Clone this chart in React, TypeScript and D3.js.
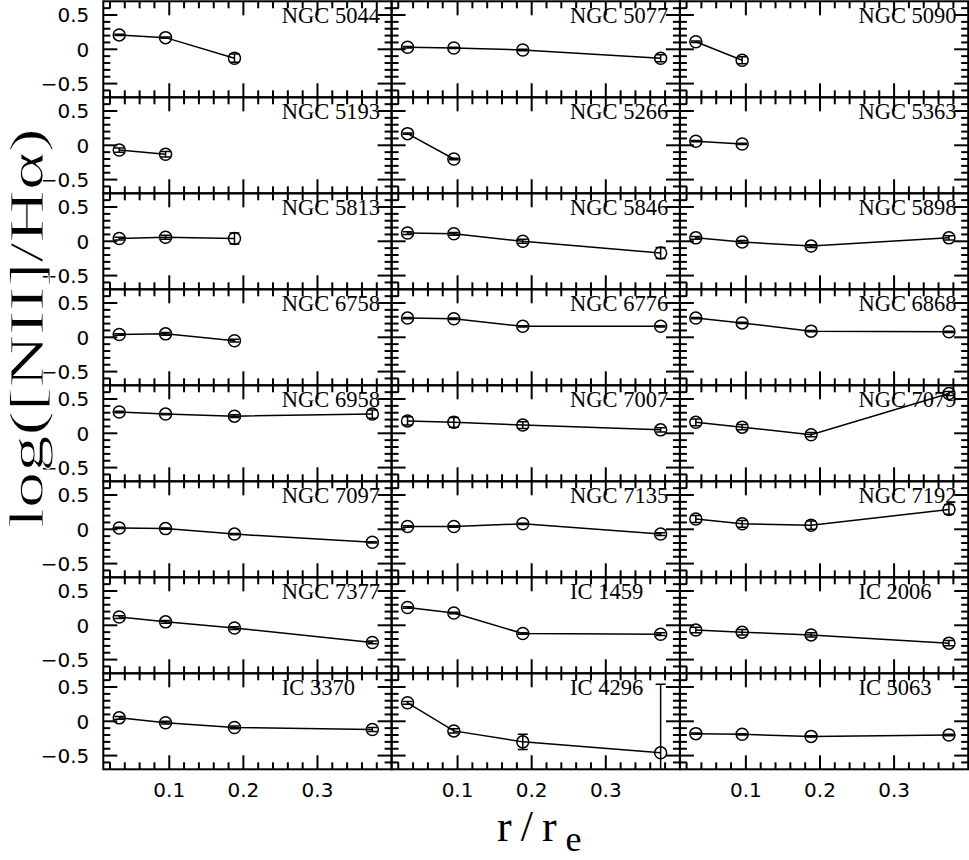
import { useEffect, useRef } from 'react'
import * as d3 from 'd3'

// panels in row-major order, 3 per row
const galaxies = [
  'NGC 5044', 'NGC 5077', 'NGC 5090',
  'NGC 5193', 'NGC 5266', 'NGC 5363',
  'NGC 5813', 'NGC 5846', 'NGC 5898',
  'NGC 6758', 'NGC 6776', 'NGC 6868',
  'NGC 6958', 'NGC 7007', 'NGC 7079',
  'NGC 7097', 'NGC 7135', 'NGC 7192',
  'NGC 7377', 'IC 1459', 'IC 2006',
  'IC 3370', 'IC 4296', 'IC 5063',
]

const radii = [0.0325, 0.095, 0.188, 0.374]

const ratios = [
  [0.21, 0.17, -0.13], [0.03, 0.02, -0.01, -0.13], [0.11, -0.16],
  [-0.07, -0.13], [0.17, -0.2], [0.06, 0.02],
  [0.04, 0.06, 0.04], [0.12, 0.11, 0.0, -0.17], [0.05, -0.01, -0.07, 0.05],
  [0.04, 0.05, -0.05], [0.28, 0.27, 0.16, 0.16], [0.28, 0.21, 0.09, 0.08],
  [0.31, 0.28, 0.25, 0.28], [0.18, 0.16, 0.12, 0.05], [0.16, 0.09, -0.02, 0.58],
  [0.02, 0.01, -0.07, -0.19], [0.04, 0.04, 0.08, -0.07], [0.15, 0.08, 0.06, 0.29],
  [0.12, 0.05, -0.04, -0.25], [0.26, 0.18, -0.12, -0.13], [-0.07, -0.1, -0.14, -0.26],
  [0.05, -0.02, -0.09, -0.12], [0.27, -0.14, -0.3, -0.46], [-0.18, -0.19, -0.22, -0.2],
]

const errors = [
  [0.01, 0.01, 0.06], [0.01, 0.01, 0.01, 0.05], [0.01, 0.05],
  [0.03, 0.04], [0.01, 0.01], [0.01, 0.01],
  [0.02, 0.03, 0.08], [0.02, 0.02, 0.03, 0.08], [0.02, 0.02, 0.02, 0.03],
  [0.01, 0.02, 0.02], [0.01, 0.01, 0.01, 0.01], [0.01, 0.01, 0.01, 0.01],
  [0.01, 0.01, 0.02, 0.06], [0.06, 0.07, 0.05, 0.03], [0.05, 0.04, 0.03, 0.03],
  [0.01, 0.01, 0.01, 0.01], [0.01, 0.01, 0.01, 0.02], [0.05, 0.05, 0.06, 0.07],
  [0.02, 0.02, 0.02, 0.02], [0.01, 0.01, 0.01, 0.02], [0.04, 0.04, 0.03, 0.04],
  [0.02, 0.02, 0.02, 0.03], [0.02, 0.03, 0.11, 1.0], [0.01, 0.01, 0.01, 0.01],
]

const xTicks = [0.1, 0.2, 0.3]
const xTickLabels = ['0.1', '0.2', '0.3']
const yTicks = [0.5, 0, -0.5]
const yTickLabels = ['0.5', '0', '\u22120.5']

export default function App() {
  const svgRef = useRef<SVGSVGElement>(null)

  useEffect(() => {
    const svg = d3.select(svgRef.current)
    svg.selectAll('*').remove()

    const left = 103.3
    const top = 1.3
    const panelW = 288.3
    const panelH = 96
    const ncol = 3
    const nrow = Math.ceil(galaxies.length / ncol)

    const xMinor = d3.range(1, 20).filter(i => i % 5 !== 0).map(i => i * 0.02)
    const yMinor = d3.range(-6, 7).filter(i => i % 5 !== 0).map(i => i * 0.1)

    const defs = svg.append('defs')

    galaxies.forEach((name, k) => {
      const col = k % ncol
      const row = Math.floor(k / ncol)
      const x0 = left + col * panelW
      const y0 = top + row * panelH

      const x = d3.scaleLinear().domain([0.011, 0.4]).range([x0, x0 + panelW])
      const y = d3.scaleLinear().domain([-0.7, 0.7]).range([y0 + panelH, y0])

      const g = svg.append('g')

      defs.append('clipPath').attr('id', `clip${k}`)
        .append('rect')
        .attr('x', x0).attr('y', y0).attr('width', panelW).attr('height', panelH)

      // ticks on all four sides, pointing inward
      const tick = (len: number, vals: number[], horiz: boolean) => {
        vals.forEach(v => {
          if (horiz) {
            const px = x(v)
            g.append('line').attr('x1', px).attr('x2', px)
              .attr('y1', y0 + panelH).attr('y2', y0 + panelH - len)
            g.append('line').attr('x1', px).attr('x2', px)
              .attr('y1', y0).attr('y2', y0 + len)
          } else {
            const py = y(v)
            g.append('line').attr('x1', x0).attr('x2', x0 + len)
              .attr('y1', py).attr('y2', py)
            g.append('line').attr('x1', x0 + panelW).attr('x2', x0 + panelW - len)
              .attr('y1', py).attr('y2', py)
          }
        })
      }
      tick(14, xTicks, true)
      tick(7, xMinor, true)
      tick(14, yTicks, false)
      tick(7, yMinor, false)
      g.selectAll('line').attr('stroke', '#000').attr('stroke-width', 2)

      g.append('rect')
        .attr('x', x0).attr('y', y0).attr('width', panelW).attr('height', panelH)
        .attr('fill', 'none').attr('stroke', '#000').attr('stroke-width', 2)

      // data
      const pts = ratios[k].map((v, i) => ({ r: radii[i], v, e: errors[k][i] }))
      const data = svg.append('g').attr('clip-path', `url(#clip${k})`)

      data.append('path')
        .datum(pts)
        .attr('d', d3.line<{ r: number, v: number }>().x(d => x(d.r)).y(d => y(d.v)))
        .attr('fill', 'none').attr('stroke', '#000').attr('stroke-width', 1.5)

      pts.forEach(d => {
        const cx = x(d.r)
        data.append('line')
          .attr('x1', cx).attr('x2', cx)
          .attr('y1', y(d.v - d.e)).attr('y2', y(d.v + d.e))
        ;[d.v - d.e, d.v + d.e].forEach(v => {
          data.append('line')
            .attr('x1', cx - 5).attr('x2', cx + 5)
            .attr('y1', y(v)).attr('y2', y(v))
        })
        data.append('circle')
          .attr('cx', cx).attr('cy', y(d.v)).attr('r', 6)
          .attr('fill', 'none')
      })
      data.selectAll('line, circle').attr('stroke', '#000').attr('stroke-width', 1.5)

      svg.append('text')
        .attr('x', x0 + 178.5)
        .attr('y', y0 + 22)
        .attr('font-family', 'Liberation Serif')
        .attr('font-size', 22.5)
        .text(name)

      if (col === 0) {
        yTicks.forEach((v, i) => {
          svg.append('text')
            .attr('x', x0 - 14)
            .attr('y', y(v))
            .attr('dy', '0.36em')
            .attr('text-anchor', 'end')
            .attr('font-family', 'DejaVu Sans')
            .attr('font-size', 20)
            .text(yTickLabels[i])
        })
      }

      if (row === nrow - 1) {
        xTicks.forEach((v, i) => {
          svg.append('text')
            .attr('x', x(v))
            .attr('y', y0 + panelH + 28)
            .attr('text-anchor', 'middle')
            .attr('font-family', 'DejaVu Sans')
            .attr('font-size', 20)
            .text(xTickLabels[i])
        })
      }
    })

    // axis titles
    svg.append('text')
      .attr('transform', 'translate(43,328) rotate(-90)')
      .attr('text-anchor', 'middle')
      .attr('font-family', 'Liberation Serif')
      .attr('font-size', 48)
      .attr('textLength', 400)
      .attr('lengthAdjust', 'spacingAndGlyphs')
      .attr('stroke', '#fff')
      .attr('stroke-width', 0.8)
      .text('log([NII]/H\u03b1)')

    const xt = svg.append('text')
      .attr('x', 497)
      .attr('y', 841)
      .attr('font-family', 'Liberation Serif')
      .attr('font-size', 44)
    xt.append('tspan').attr('letter-spacing', 9).text('r/r')
    xt.append('tspan').attr('dy', 10).attr('font-size', 36).text('e')
  }, [])

  return (
    <svg
      ref={svgRef}
      width={969}
      height={860}
      style={{ position: 'absolute', left: 0, top: 0, background: '#fff' }}
    />
  )
}
